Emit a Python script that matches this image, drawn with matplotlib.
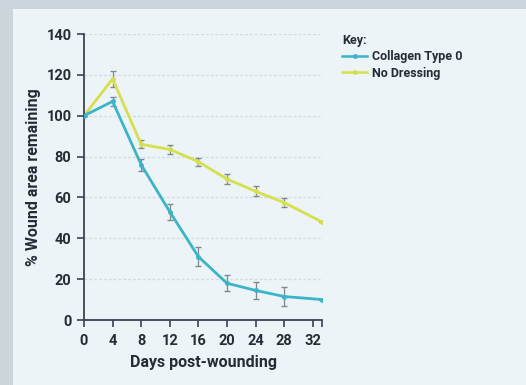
import matplotlib.pyplot as plt
from matplotlib.patches import Rectangle
from matplotlib.lines import Line2D

# Wound closure over time (mean +/- error)
days = [0, 4, 8, 12, 16, 20, 24, 28, 33.3]
collagen = [100, 107, 76, 53, 31, 18, 14.5, 11.5, 10]
collagen_err = [0, 2, 3, 4, 4.5, 4, 4, 4.5, 0]
no_dressing = [100, 118, 86, 83.5, 77.5, 69, 63, 57.5, 48]
no_dressing_err = [0, 4, 2, 2, 2, 2.5, 2.5, 2, 0]

x_ticks = [0, 4, 8, 12, 16, 20, 24, 28, 32]
y_ticks = [0, 20, 40, 60, 80, 100, 120, 140]

teal = '#3bb4c8'
yellow = '#d6df4c'
ink = '#262b36'
panel = '#edf4f7'

plt.rcParams['font.family'] = ['Roboto', 'DejaVu Sans']

fig = plt.figure(figsize=(5.26, 3.85), dpi=100)
fig.patch.set_facecolor('#cdd5dc')
fig.patches.append(Rectangle((13 / 526, 0), 1, 1 - 9 / 385, transform=fig.transFigure,
                             facecolor=panel, edgecolor='none', zorder=-5))

ax = fig.add_axes([84 / 526, 1 - 320 / 385, (322 - 84) / 526, (320 - 34) / 385])
ax.patch.set_alpha(0)

for yv in y_ticks[1:]:
    ax.axhline(yv, color='#d3dce3', lw=1, ls=(0, (2, 1.5)), zorder=0)

ax.errorbar(days, no_dressing, yerr=no_dressing_err, color=yellow, lw=2.0,
            marker='o', ms=2.5, ecolor='#7d8a90', elinewidth=0.9, capsize=2.5,
            zorder=2)
ax.errorbar(days, collagen, yerr=collagen_err, color=teal, lw=2.0,
            marker='o', ms=2.5, ecolor='#7d8a90', elinewidth=0.9, capsize=2.5,
            zorder=3)

ax.set_xlim(0, 33.3)
ax.set_ylim(0, 140)
ax.set_xticks(x_ticks + [33.3])
ax.set_xticklabels([str(t) for t in x_ticks] + [''])
ax.set_yticks(y_ticks)

for side in ['top', 'right']:
    ax.spines[side].set_visible(False)
for side in ['left', 'bottom']:
    ax.spines[side].set_color('#3a4256')
    ax.spines[side].set_linewidth(1.3)
ax.tick_params(colors='#3a4256', width=1.2, length=5, labelcolor=ink,
               labelsize=10.5)
ax.tick_params(axis='y', pad=4)
ax.tick_params(axis='x', pad=5)
for lbl in ax.get_xticklabels() + ax.get_yticklabels():
    lbl.set_fontweight('bold')

ax.set_xlabel('Days post-wounding', fontsize=11.5, fontweight='bold', color=ink, labelpad=5)
ax.set_ylabel('% Wound area remaining', fontsize=11.5, fontweight='bold', color=ink, labelpad=4)

handles = [Line2D([], [], color=teal, lw=1.8, marker='o', ms=2.5),
           Line2D([], [], color=yellow, lw=1.8, marker='o', ms=2.5)]
labels = ['Collagen Type 0', 'No Dressing']
leg = fig.legend(handles, labels, loc='upper left',
                 bbox_to_anchor=(336 / 526, 1 - 28 / 385), frameon=False,
                 title='Key:', alignment='left', handlelength=2.0,
                 handletextpad=0.4, borderpad=0, labelspacing=0.25,
                 prop={'size': 9, 'weight': 'bold'})
leg.get_title().set_fontsize(9)
leg.get_title().set_fontweight('bold')
leg.get_title().set_color(ink)
for t in leg.get_texts():
    t.set_color(ink)

fig.savefig('out.png', dpi=100, facecolor=fig.get_facecolor())
